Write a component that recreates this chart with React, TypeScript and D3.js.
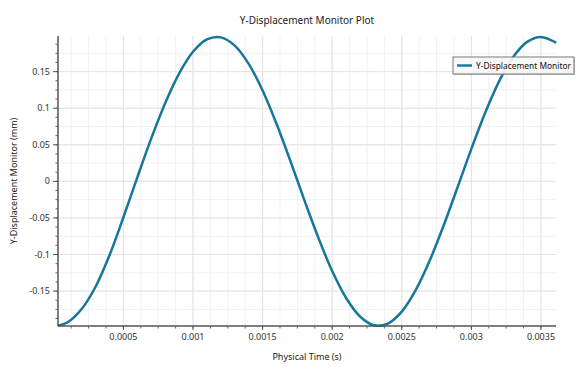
import React from "react";
import * as d3 from "d3";

const times = [
  0.00003, 0.0001, 0.0002, 0.0003, 0.0004, 0.0005, 0.0006, 0.0007, 0.0008, 0.0009,
  0.001, 0.0011, 0.0012, 0.0013, 0.0014, 0.0015, 0.0016, 0.0017, 0.0018, 0.0019,
  0.002, 0.0021, 0.0022, 0.0023, 0.0024, 0.0025, 0.0026, 0.0027, 0.0028, 0.0029,
  0.003, 0.0031, 0.0032, 0.0033, 0.0034, 0.0035, 0.00361,
];
const displacement = [
  -0.1972, -0.1925, -0.1745, -0.144, -0.101, -0.049, 0.0055, 0.0588, 0.1069, 0.1473,
  0.1771, 0.194, 0.1968, 0.1855, 0.1606, 0.1242, 0.0787, 0.0276, -0.0256, -0.0768,
  -0.1226, -0.1594, -0.1847, -0.1967, -0.1944, -0.178, -0.1487, -0.1086, -0.0607, -0.0084,
  0.0445, 0.0942, 0.1371, 0.17, 0.1907, 0.1975, 0.1895,
];
const xTicks = [0.0005, 0.001, 0.0015, 0.002, 0.0025, 0.003, 0.0035];
const xTickLabels = ["0.0005", "0.001", "0.0015", "0.002", "0.0025", "0.003", "0.0035"];
const yTicks = [-0.15, -0.1, -0.05, 0, 0.05, 0.1, 0.15];
const yTickLabels = ["-0.15", "-0.1", "-0.05", "0", "0.05", "0.1", "0.15"];
const xDomain = [0.00003, 0.003608];
const yDomain = [-0.1977, 0.1987];
const title = "Y-Displacement Monitor Plot";
const xLabel = "Physical Time (s)";
const yLabel = "Y-Displacement Monitor (mm)";
const seriesName = "Y-Displacement Monitor";

export default function App() {
  const W = 580, H = 370;
  const L = 58, R = 556, T = 36, B = 326;
  const x = d3.scaleLinear().domain(xDomain).range([L, R]);
  const y = d3.scaleLinear().domain(yDomain).range([B, T]);
  const font = "'Noto Sans', sans-serif";
  const color = "#17769a";

  const xMinor = d3.range(0.000125, xDomain[1], 0.000125).filter((v) => v > xDomain[0]);
  const yMinor = d3.range(-0.1875, 0.19, 0.0125);
  const yMinorGrid = d3.range(-0.175, 0.19, 0.025);

  const pts = times.map((t, i) => [t, displacement[i]] as [number, number]);
  const line = d3
    .line<[number, number]>()
    .x((d) => x(d[0]))
    .y((d) => y(d[1]))
    .curve(d3.curveCatmullRom.alpha(0.5));

  return (
    <svg width={W} height={H} style={{ position: "absolute", left: 0, top: 0, background: "#fff" }}>
      <rect x={0} y={0} width={W} height={H} fill="#fff" />
      {/* minor grid */}
      {xMinor.map((v, i) => (
        <line key={"xm" + i} x1={x(v)} x2={x(v)} y1={T} y2={B} stroke="#f1f1f1" strokeWidth={1} />
      ))}
      {yMinorGrid.map((v, i) => (
        <line key={"ym" + i} x1={L} x2={R} y1={y(v)} y2={y(v)} stroke="#f1f1f1" strokeWidth={1} />
      ))}
      {/* major grid */}
      {xTicks.map((v, i) => (
        <line key={"xg" + i} x1={x(v)} x2={x(v)} y1={T} y2={B} stroke="#e3e3e3" strokeWidth={1} />
      ))}
      {yTicks.map((v, i) => (
        <line key={"yg" + i} x1={L} x2={R} y1={y(v)} y2={y(v)} stroke="#e3e3e3" strokeWidth={1} />
      ))}
      {/* curve */}
      <path d={line(pts) || ""} fill="none" stroke={color} strokeWidth={2.5} strokeLinejoin="round" />
      {/* axes */}
      <line x1={L} x2={L} y1={T} y2={B} stroke="#555" strokeWidth={1.5} />
      <line x1={L} x2={R} y1={B} y2={B} stroke="#555" strokeWidth={1.5} />
      {xMinor.map((v, i) => (
        <line key={"xt" + i} x1={x(v)} x2={x(v)} y1={B} y2={B + 2.5} stroke="#666" strokeWidth={1} />
      ))}
      {xTicks.map((v, i) => (
        <g key={"xT" + i}>
          <line x1={x(v)} x2={x(v)} y1={B} y2={B + 4} stroke="#555" strokeWidth={1} />
          <text x={x(v)} y={340} textAnchor="middle" fontFamily={font} fontSize={9} fill="#333">
            {xTickLabels[i]}
          </text>
        </g>
      ))}
      {yMinor.map((v, i) => (
        <line key={"yt" + i} x1={L - 2.5} x2={L} y1={y(v)} y2={y(v)} stroke="#666" strokeWidth={1} />
      ))}
      {yTicks.map((v, i) => (
        <g key={"yT" + i}>
          <line x1={L - 5} x2={L} y1={y(v)} y2={y(v)} stroke="#555" strokeWidth={1} />
          <text x={50} y={y(v) + 3} textAnchor="end" fontFamily={font} fontSize={9} fill="#333">
            {yTickLabels[i]}
          </text>
        </g>
      ))}
      {/* titles */}
      <text x={(L + R) / 2} y={24} textAnchor="middle" fontFamily={font} fontSize={10} fill="#222">
        {title}
      </text>
      <text x={(L + R) / 2} y={360} textAnchor="middle" fontFamily={font} fontSize={9} fill="#222">
        {xLabel}
      </text>
      <text
        transform={`translate(17, ${(T + B) / 2}) rotate(-90)`}
        textAnchor="middle"
        fontFamily={font}
        fontSize={9}
        fill="#222"
      >
        {yLabel}
      </text>
      {/* legend */}
      <g>
        <rect x={454} y={58} width={121} height={17} fill="#999" opacity={0.5} />
        <rect x={453} y={57} width={121} height={17} fill="#fff" fillOpacity={0.85} stroke="#777" strokeWidth={1} />
        <line x1={457} x2={472} y1={65.5} y2={65.5} stroke={color} strokeWidth={2.4} />
        <text x={476} y={68.8} fontFamily={font} fontSize={8.4} fill="#111">
          {seriesName}
        </text>
      </g>
    </svg>
  );
}
